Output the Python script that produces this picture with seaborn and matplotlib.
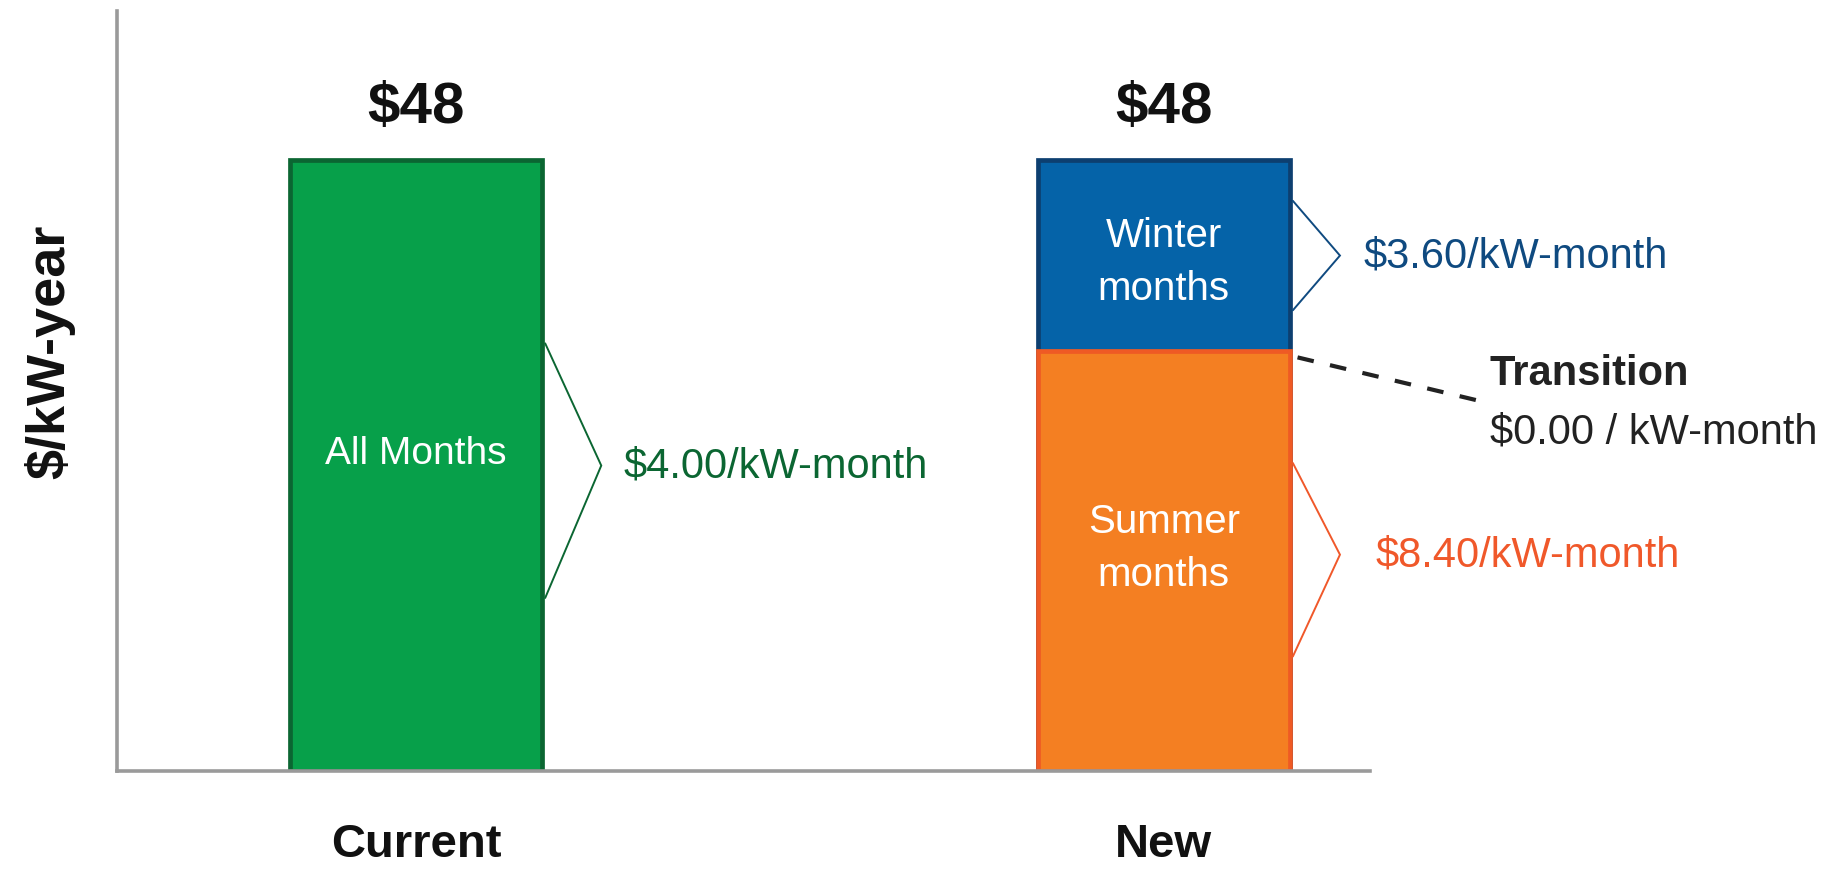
import matplotlib
matplotlib.use("Agg")
import matplotlib.pyplot as plt
import seaborn as sns
import pandas as pd

# ---- data ----
categories = ["Current", "New"]
totals = [48, 48]                 # $/kW-year
summer_value = 33                 # New: summer portion
winter_value = 15                 # New: winter portion
total_labels = ["$48", "$48"]
segment_labels = ["All Months", "Winter\nmonths", "Summer\nmonths"]
rate_labels = ["$4.00/kW-month", "$3.60/kW-month", "$8.40/kW-month"]
transition_title = "Transition"
transition_rate = "$0.00 / kW-month"
y_label = "$/kW-year"

sns.set_theme(style="white")
plt.rcParams["font.family"] = ["Liberation Sans", "DejaVu Sans"]

GREEN, GREEN_E = "#07a04a", "#0b6632"
BLUE, BLUE_E = "#0563a8", "#0d3f70"
ORANGE, ORANGE_E = "#f47f22", "#ef5a24"
GREEN_T, BLUE_T, ORANGE_T = "#0b6632", "#0f4a80", "#f0582a"
DARK = "#222222"

fig = plt.figure(figsize=(18.39, 8.70), dpi=100)
ax = fig.add_axes([0.0636, 0.1126, 0.6814, 0.8734])

W = 0.3375
top_df = pd.DataFrame({"cat": categories, "val": totals})
sns.barplot(data=top_df, x="cat", y="val", hue="cat", palette=[GREEN, BLUE],
            order=categories, width=W, legend=False, ax=ax, saturation=1)
bot_df = pd.DataFrame({"cat": ["New"], "val": [summer_value]})
sns.barplot(data=bot_df, x="cat", y="val", order=categories, color=ORANGE,
            width=W, ax=ax, saturation=1)

edge_cols = [GREEN_E, BLUE_E, ORANGE_E]
for p, ec in zip(ax.patches, edge_cols):
    p.set_edgecolor(ec)
    p.set_linewidth(3.4)

ax.set_xlim(-0.40, 1.276)
ax.set_ylim(0, 59.7)

# totals
for i, t in enumerate(total_labels):
    ax.text(i, 52.2, t, ha="center", va="center", fontsize=42, fontweight="bold", color="#111111")

# in-bar labels
ax.text(0, 25.0, segment_labels[0], ha="center", va="center", fontsize=28, color="white")
ax.text(1, 40.0, segment_labels[1], ha="center", va="center",
        fontsize=29, color="white", linespacing=1.5)
ax.text(1, 17.6, segment_labels[2], ha="center", va="center",
        fontsize=29, color="white", linespacing=1.5)

# brackets
def bracket(xc, y_hi, y_mid, y_lo, dx, color):
    x0 = xc + W / 2 + 0.004
    ax.plot([x0, x0 + dx, x0], [y_hi, y_mid, y_lo], color=color, lw=1.4, clip_on=False,
            solid_joinstyle="miter")

bracket(0, 33.6, 24.0, 13.6, 0.075, GREEN_T)
bracket(1, 44.8, 40.5, 36.2, 0.063, BLUE_T)
bracket(1, 24.2, 17.0, 9.0, 0.063, ORANGE_T)

ax.text(0.278, 24.0, rate_labels[0], ha="left", va="center", fontsize=30, color=GREEN_T)
ax.text(1.267, 40.5, rate_labels[1], ha="left", va="center", fontsize=30, color=BLUE_T, clip_on=False)
ax.text(1.283, 17.0, rate_labels[2], ha="left", va="center", fontsize=30, color=ORANGE_T, clip_on=False)

# transition
ax.plot([1.179, 1.421], [32.5, 29.1], color=DARK, lw=3, ls=(0, (4, 4)), clip_on=False)
ax.text(1.436, 31.3, transition_title, ha="left", va="center", fontsize=30, fontweight="bold",
        color=DARK, clip_on=False)
ax.text(1.436, 26.7, transition_rate, ha="left", va="center", fontsize=30, color=DARK,
        clip_on=False)

# axes styling
for s in ["top", "right"]:
    ax.spines[s].set_visible(False)
for s in ["left", "bottom"]:
    ax.spines[s].set_color("#9a9a9a")
    ax.spines[s].set_linewidth(2.6)
ax.set_yticks([])
ax.tick_params(axis="x", length=0, pad=37)
for lbl in ax.get_xticklabels():
    lbl.set_fontsize(34)
    lbl.set_fontweight("bold")
    lbl.set_color("#111111")
ax.set_xlabel("")
ax.set_ylabel("")
fig.text(50 / 1839, 1 - 352 / 870, y_label, rotation=90, ha="center", va="center",
         fontsize=39, fontweight="bold", color="#111111")

fig.savefig("out.png", dpi=100)
